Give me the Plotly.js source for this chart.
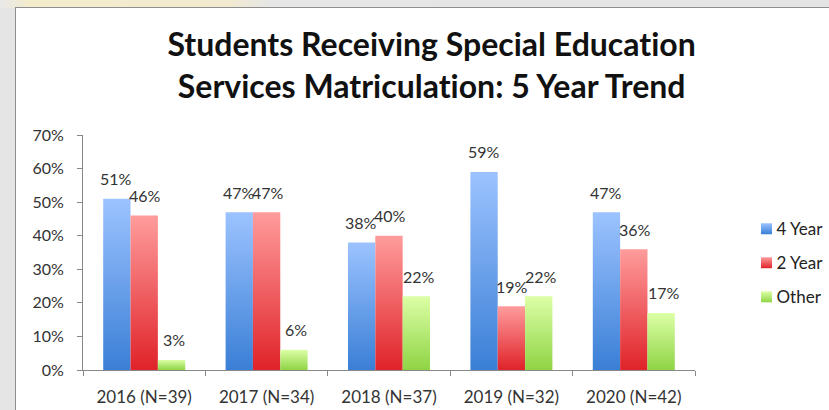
<!DOCTYPE html>
<html>
<head>
<meta charset="utf-8">
<script src="https://cdn.plot.ly/plotly-3.0.1.min.js"></script>
<style>
  html, body { margin:0; padding:0; width:829px; height:410px; overflow:hidden; background:#e5e5e5; }
  #topstrip { position:absolute; left:0; top:0; width:829px; height:8px;
    background: linear-gradient(to right, #e8e8e8 0px, #f4eccb 30px, #f1ead0 230px, #e6e6e6 270px, #e4e4e4 829px); }
  #frame { position:absolute; left:15px; top:7px; width:814px; height:403px; background:#fff;
    border-left:1px solid #8e8e8e; border-top:1px solid #8e8e8e; box-sizing:border-box; }
  #chart { position:absolute; left:1px; top:1px; width:813px; height:402px; }
  #chart text { font-variant-ligatures: none; font-feature-settings: "liga" 0, "dlig" 0, "clig" 0; }
</style>
</head>
<body>
<div id="topstrip"></div>
<div id="frame"><div id="chart"></div></div>
<script>
const categories = ['2016 (N=39)', '2017 (N=34)', '2018 (N=37)', '2019 (N=32)', '2020 (N=42)'];
const seriesNames = ['4 Year', '2 Year', 'Other'];
const fourYear = [51, 47, 38, 59, 47];
const twoYear = [46, 47, 40, 19, 36];
const other = [3, 6, 22, 22, 17];
const yTickValues = [0, 10, 20, 30, 40, 50, 60, 70];

const seriesValues = [fourYear, twoYear, other];
const solid = ['#6a9fe8', '#f25a5e', '#b4ec74'];
const gradStops = [
  ['#9cc3ff', '#3a7fd6'],
  ['#ff9c9c', '#df2329'],
  ['#dcffa6', '#8fd445']
];

const W = 813, H = 402;
const margin = {l: 66, r: 101, t: 126, b: 41};
const bargap = 0.33;
const plotW = W - margin.l - margin.r;
const barPx = plotW * (1 - bargap) / categories.length / seriesValues.length;

const font = 'Lato, Carlito, "Liberation Sans", sans-serif';

const traces = seriesValues.map((vals, i) => ({
  type: 'bar',
  name: seriesNames[i],
  x: categories,
  y: vals,
  marker: {color: solid[i], line: {width: 0}},
  legendgroup: 'g' + i,
  hoverinfo: 'skip'
}));

const annotations = [];
seriesValues.forEach((vals, i) => {
  vals.forEach((v, j) => {
    annotations.push({
      x: categories[j], y: v, xref: 'x', yref: 'y',
      text: v + '%', showarrow: false,
      xshift: (i - 1) * barPx + 1, yshift: 20, yanchor: 'middle',
      font: {family: font, size: 16, color: '#333'}
    });
  });
});

const layout = {
  width: W, height: H,
  margin: margin,
  paper_bgcolor: '#fff', plot_bgcolor: '#fff',
  barmode: 'group', bargap: bargap, bargroupgap: 0,
  title: {
    text: 'Students Receiving Special Education<br>Services Matriculation: 5 Year Trend',
    font: {family: font, size: 32, color: '#111', weight: 'bold'},
    x: 0.51, xref: 'container', xanchor: 'center',
    y: 1 - 47 / H, yref: 'container', yanchor: 'middle'
  },
  xaxis: {
    type: 'category',
    tickson: 'boundaries', ticks: 'outside', ticklen: 5, tickcolor: '#888',
    showline: true, linecolor: '#888', linewidth: 1,
    showgrid: false, zeroline: false,
    tickfont: {family: font, size: 17, color: '#333'},
    ticklabelstandoff: 12
  },
  yaxis: {
    range: [0, 70], tickvals: yTickValues, ticktext: yTickValues.map(v => v + '%'),
    ticks: 'outside', ticklen: 5, tickcolor: '#888',
    showline: true, linecolor: '#888', linewidth: 1,
    showgrid: false, zeroline: false,
    tickfont: {family: font, size: 16, color: '#333'},
    ticklabelstandoff: 10
  },
  legend: {
    x: 1.05, xanchor: 'left', y: 0.455, yanchor: 'middle',
    traceorder: 'grouped', tracegroupgap: 9,
    font: {family: font, size: 17, color: '#222'},
    itemwidth: 30
  },
  annotations: annotations,
  showlegend: true
};

// Desired page-x of the legend swatch centre (styling only)
const legendSwatchCenterX = 766.5;

Plotly.newPlot('chart', traces, layout, {staticPlot: true, displayModeBar: false}).then(gd => {
  const svg = gd.querySelector('svg.main-svg');
  const ns = 'http://www.w3.org/2000/svg';
  let defs = svg.querySelector('defs');
  if (!defs) { defs = document.createElementNS(ns, 'defs'); svg.insertBefore(defs, svg.firstChild); }
  gradStops.forEach((st, i) => {
    const lg = document.createElementNS(ns, 'linearGradient');
    lg.setAttribute('id', 'bargrad' + i);
    lg.setAttribute('x1', '0'); lg.setAttribute('y1', '0');
    lg.setAttribute('x2', '0'); lg.setAttribute('y2', '1');
    [[0, st[0]], [1, st[1]]].forEach(([o, c]) => {
      const s = document.createElementNS(ns, 'stop');
      s.setAttribute('offset', o); s.setAttribute('stop-color', c);
      lg.appendChild(s);
    });
    defs.appendChild(lg);
  });
  gd.querySelectorAll('.barlayer .trace').forEach((tr, i) => {
    tr.querySelectorAll('path').forEach(p => { p.style.fill = 'url(#bargrad' + i + ')'; });
  });
  gd.querySelectorAll('.legend .traces').forEach((tr, i) => {
    tr.querySelectorAll('.legendpoints path').forEach(p => {
      p.style.fill = 'url(#bargrad' + i + ')'; p.style.stroke = 'none';
      p.setAttribute('d', 'M5.5,5.5H-5.5V-5.5H5.5Z');
      p.setAttribute('transform', 'translate(30,0)');
    });
  });
  // move legend so swatches sit where the reference has them
  const leg = gd.querySelector('g.legend');
  const sw = gd.querySelector('.legend .legendpoints path');
  if (leg && sw) {
    const r = sw.getBoundingClientRect();
    const dx = legendSwatchCenterX - (r.left + r.width / 2);
    const m = /translate\(([-\d.]+),\s*([-\d.]+)\)/.exec(leg.getAttribute('transform') || '');
    if (m) {
      leg.setAttribute('transform', 'translate(' + (parseFloat(m[1]) + dx) + ',' + m[2] + ')');
    }
    svg.parentNode.querySelectorAll('clipPath').forEach(cp => {
      if (/legend/.test(cp.id)) cp.querySelectorAll('rect').forEach(rc => rc.setAttribute('width', '300'));
    });
  }
});
</script>
</body>
</html>
